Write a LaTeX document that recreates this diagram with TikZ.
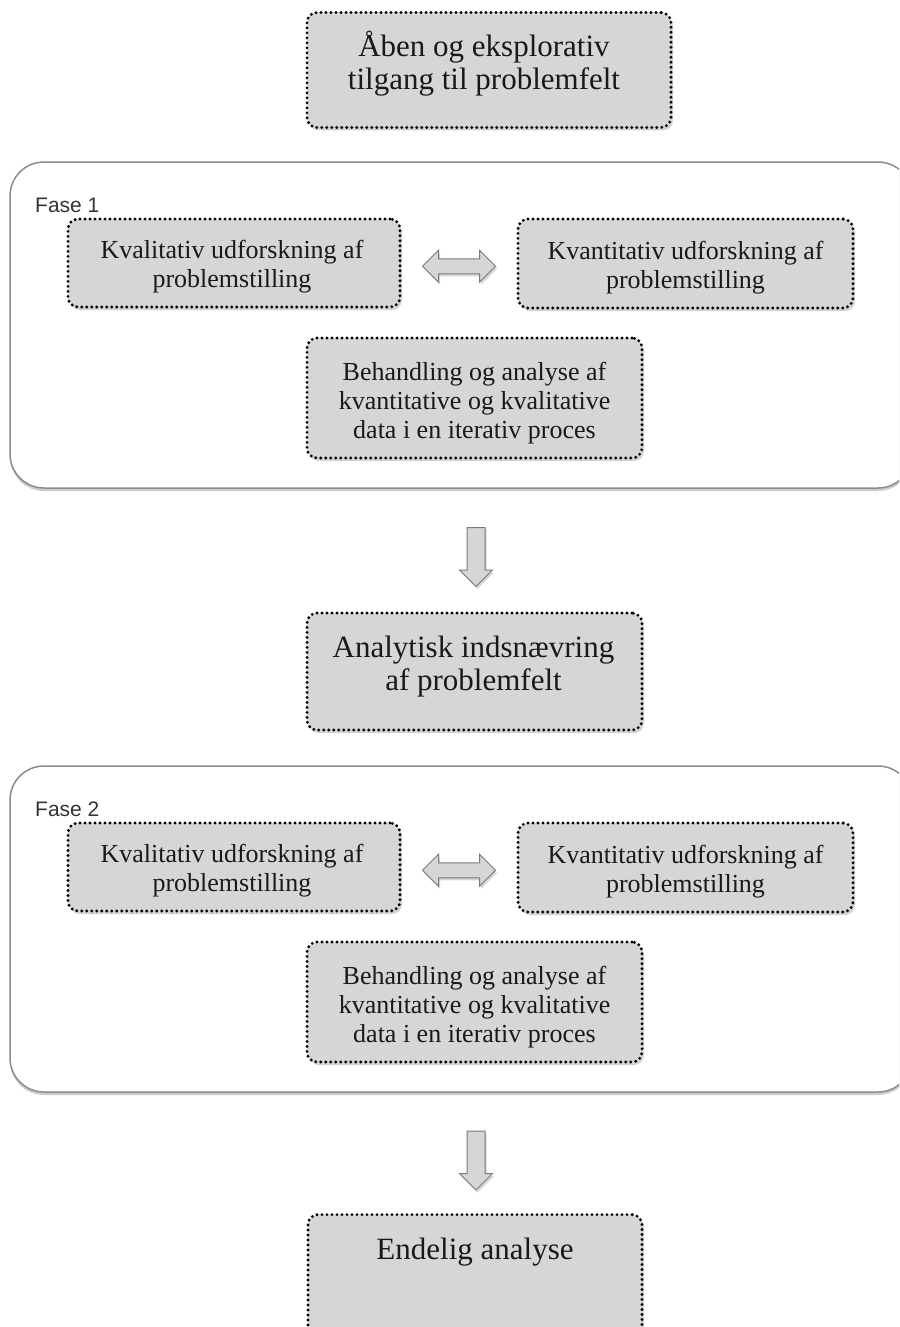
\documentclass[tikz,border=0pt]{standalone}
\usepackage{fontspec}
\setmainfont{Liberation Serif}
\setsansfont{Liberation Sans}
\usetikzlibrary{shapes.arrows,shadows,calc}
\definecolor{boxgray}{HTML}{D6D6D6}
\definecolor{arrowedge}{HTML}{7A7A7A}
\definecolor{framegray}{HTML}{8C8C8C}
\begin{document}
\begin{tikzpicture}[x=1pt,y=-1pt,
  box/.style={draw=black, fill=boxgray, rounded corners=10pt, line width=3.2pt,
    dash pattern=on 0pt off 5pt, line cap=round,
    drop shadow={shadow xshift=2pt, shadow yshift=-3pt, opacity=0.35},
    inner sep=0pt},
  boxtext/.style={align=center, text=black!90, inner sep=0pt},
  bigtext/.style={boxtext, font=\fontsize{31}{33}\selectfont},
  smalltext/.style={boxtext, font=\fontsize{26}{29}\selectfont},
  frame/.style={draw=framegray, line width=1.5pt, rounded corners=34pt, fill=white,
    drop shadow={shadow xshift=0pt, shadow yshift=-3pt, opacity=0.4}},
  phaselabel/.style={font=\sffamily\fontsize{21}{23}\selectfont, text=black!80, anchor=west, inner sep=0pt},
  dblarrow/.style={shape=double arrow, draw=arrowedge, fill=boxgray, line width=1pt,
    minimum height=73pt, inner xsep=0pt, inner ysep=7pt, double arrow head extend=8.5pt,
    drop shadow={shadow xshift=1.5pt, shadow yshift=-2.5pt, opacity=0.3}},
  downarrow/.style={shape=single arrow, draw=arrowedge, fill=boxgray, line width=1pt,
    minimum height=59pt, inner xsep=0pt, inner ysep=8.5pt, single arrow head extend=7.5pt,
    rotate=-90,
    drop shadow={shadow xshift=1.5pt, shadow yshift=-2.5pt, opacity=0.3}}
]
\useasboundingbox (0,0) rectangle (899,1327);
\clip (0,0) rectangle (899,1327);

% top box
\node[box, minimum width=364pt, minimum height=115pt] (top) at (489,70) {};
\node[bigtext] (toptxt) at ($(top.center)+(-5,-6)$) {Åben og eksplorativ\\tilgang til problemfelt};

% Phase 1 frame
\path[frame] (10,162) rectangle (912,488);
\node[phaselabel] (f1) at (35,205) {Fase 1};
\node[box, minimum width=332pt, minimum height=88pt] (kval1) at (234,263) {};
\node[smalltext] (kval1txt) at ($(kval1.center)+(-2,4)$) {Kvalitativ udforskning af\\problemstilling};
\node[box, minimum width=335pt, minimum height=89pt] (kvan1) at (685.5,263.5) {};
\node[smalltext] (kvan1txt) at ($(kvan1.center)+(0,4)$) {Kvantitativ udforskning af\\problemstilling};
\node[dblarrow] (da1) at ($(kval1.east)!0.5!(kvan1.west)+(0,3)$) {};
\node[box, minimum width=335pt, minimum height=120pt] (beh1) at (474.5,398) {};
\node[smalltext] (beh1txt) at ($(beh1.center)+(0,5)$) {Behandling og analyse af\\kvantitative og kvalitative\\data i en iterativ proces};

\node[downarrow] (ar1) at (476,552.5) {};

\node[box, minimum width=335pt, minimum height=117pt] (ana) at (474.5,671.5) {};
\node[bigtext] (anatxt) at ($(ana.center)+(-1,-5)$) {Analytisk indsnævring\\af problemfelt};

% Phase 2 frame
\path[frame] (10,766) rectangle (912,1092);
\node[phaselabel] (f2) at (35,809) {Fase 2};
\node[box, minimum width=332pt, minimum height=88pt] (kval2) at (234,867) {};
\node[smalltext] (kval2txt) at ($(kval2.center)+(-2,4)$) {Kvalitativ udforskning af\\problemstilling};
\node[box, minimum width=335pt, minimum height=89pt] (kvan2) at (685.5,867.5) {};
\node[smalltext] (kvan2txt) at ($(kvan2.center)+(0,4)$) {Kvantitativ udforskning af\\problemstilling};
\node[dblarrow] (da2) at ($(kval2.east)!0.5!(kvan2.west)+(0,3)$) {};
\node[box, minimum width=335pt, minimum height=120pt] (beh2) at (474.5,1002) {};
\node[smalltext] (beh2txt) at ($(beh2.center)+(0,5)$) {Behandling og analyse af\\kvantitative og kvalitative\\data i en iterativ proces};

\node[downarrow] (ar2) at (476,1156) {};

\node[box, minimum width=334pt, minimum height=140pt, anchor=north] (end) at (475,1213) {};
\node[bigtext] (endtxt) at ($(end.north)+(0,39)$) {Endelig analyse};
\end{tikzpicture}
\end{document}
